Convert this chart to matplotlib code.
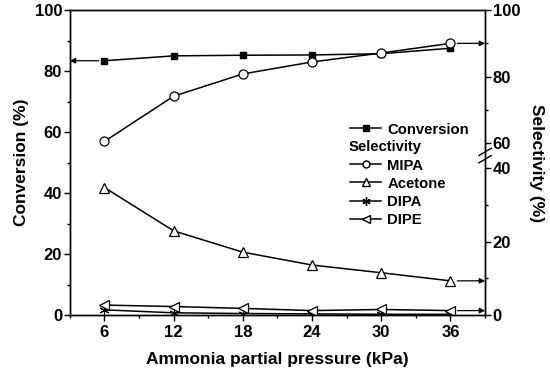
import numpy as np
import matplotlib
matplotlib.use("Agg")
import matplotlib.pyplot as plt
from matplotlib.lines import Line2D

plt.rcParams['font.family'] = ['Liberation Sans', 'DejaVu Sans']
plt.rcParams['font.weight'] = 'bold'
plt.rcParams['axes.labelweight'] = 'bold'

# data
pressure = [6, 12, 18, 24, 30, 36]
conversion = [83.4, 85.0, 85.2, 85.3, 85.7, 87.5]
sel_mipa = [60.5, 74.1, 80.8, 84.4, 87.1, 90.0]
sel_acetone = [34.7, 22.9, 17.1, 13.6, 11.5, 9.3]
sel_dipa = [1.4, 0.6, 0.4, 0.3, 0.2, 0.2]
sel_dipe = [2.7, 2.3, 1.8, 1.2, 1.5, 1.2]

x_ticks = [6, 12, 18, 24, 30, 36]
left_ticks = [0, 20, 40, 60, 80, 100]
right_ticks = [0, 20, 40, 60, 80, 100]

# broken right axis: selectivity -> position in left-axis units
brk_in = [0, 40, 60, 100]
brk_out = [0, 48.2, 56.4, 100]


def fwd(s):
    return np.interp(s, brk_in, brk_out)


def inv(v):
    return np.interp(v, brk_out, brk_in)


fig = plt.figure(figsize=(5.5, 3.75), dpi=100)
ax = fig.add_axes([0.127, 0.16, 0.755, 0.813])
ax2 = ax.twinx()
ax2.set_yscale('function', functions=(fwd, inv))

ax.set_xlim(3, 39)
ax.set_ylim(0, 100)
ax2.set_ylim(0, 100)

lw = 1.1
ax.plot(pressure, conversion, color='black', lw=lw, marker='s', ms=5,
        mfc='black', mec='black', label='Conversion')
ax2.plot(pressure, sel_mipa, color='black', lw=lw, marker='o', ms=6.5,
         mfc='white', mec='black', mew=0.9)
ax2.plot(pressure, sel_acetone, color='black', lw=lw, marker='^', ms=7,
         mfc='white', mec='black', mew=0.9)
ax2.plot(pressure, sel_dipa, color='black', lw=lw, marker=(6, 2, 0), ms=7,
         mec='black', mew=0.8)
ax2.plot(pressure, sel_dipe, color='black', lw=lw, marker='<', ms=7,
         mfc='white', mec='black', mew=0.9)

# arrows pointing to the axis each series belongs to
arrow = dict(arrowstyle='-|>', color='black', lw=0.9, mutation_scale=8,
             shrinkA=0, shrinkB=0)
ax.annotate('', xy=(0.0, conversion[0]), xytext=(pressure[0] - 0.5, conversion[0]),
            xycoords=('axes fraction', 'data'), textcoords='data', arrowprops=arrow)
for s in [sel_mipa, sel_acetone, [1.2]]:
    ax2.annotate('', xy=(1.0, s[-1]), xytext=(pressure[-1] + 0.6, s[-1]),
                 xycoords=('axes fraction', 'data'), textcoords='data',
                 arrowprops=arrow)

ax.set_xticks(x_ticks)
ax.set_xticks([3, 9, 15, 21, 27, 33, 39], minor=True)
ax.set_yticks(left_ticks)
ax.set_yticks([10, 30, 50, 70, 90], minor=True)
ax2.set_yticks(right_ticks)
ax2.set_yticks([10, 30, 70, 90], minor=True)
ax2.set_yticklabels([str(t) for t in right_ticks])

for a in (ax, ax2):
    a.tick_params(which='major', direction='out', length=4, width=1,
                  labelsize=12, pad=1.5)
    a.tick_params(which='minor', direction='out', length=2.5, width=1)
    for sp in a.spines.values():
        sp.set_linewidth(1.0)
ax.tick_params(axis='x', pad=3)

ax.set_xlabel('Ammonia partial pressure (kPa)', fontsize=12.5, labelpad=9)
ax.set_ylabel('Conversion (%)', fontsize=12.5, labelpad=4)
ax2.set_ylabel('Selectivity (%)', fontsize=12.5, rotation=270, labelpad=17)

# break marks on the right axis
yb = fwd(50) / 100.0
for dy in (-0.012, 0.012):
    ax2.plot([0.985, 1.015], [yb + dy - 0.012, yb + dy + 0.012],
             transform=ax2.transAxes, color='black', lw=1.0, clip_on=False)

handles = [
    Line2D([], [], color='black', lw=lw, marker='s', ms=4, mfc='black'),
    Line2D([], [], color='none'),
    Line2D([], [], color='black', lw=lw, marker='o', ms=5, mfc='white'),
    Line2D([], [], color='black', lw=lw, marker='^', ms=5.5, mfc='white'),
    Line2D([], [], color='black', lw=lw, marker=(6, 2, 0), ms=6),
    Line2D([], [], color='black', lw=lw, marker='<', ms=5.5, mfc='white'),
]
labels = ['Conversion', ' ', 'MIPA', 'Acetone', 'DIPA', 'DIPE']
ax2.legend(handles, labels, loc='upper left', bbox_to_anchor=(0.65, 0.665),
           frameon=False, fontsize=10.7, handlelength=2.1, handletextpad=0.4,
           labelspacing=0.27, borderpad=0.2)
ax2.text(0.672, 0.552, 'Selectivity', transform=ax2.transAxes, fontsize=10.7,
         fontweight='bold', va='center', ha='left')

fig.savefig('out.png', dpi=100)
